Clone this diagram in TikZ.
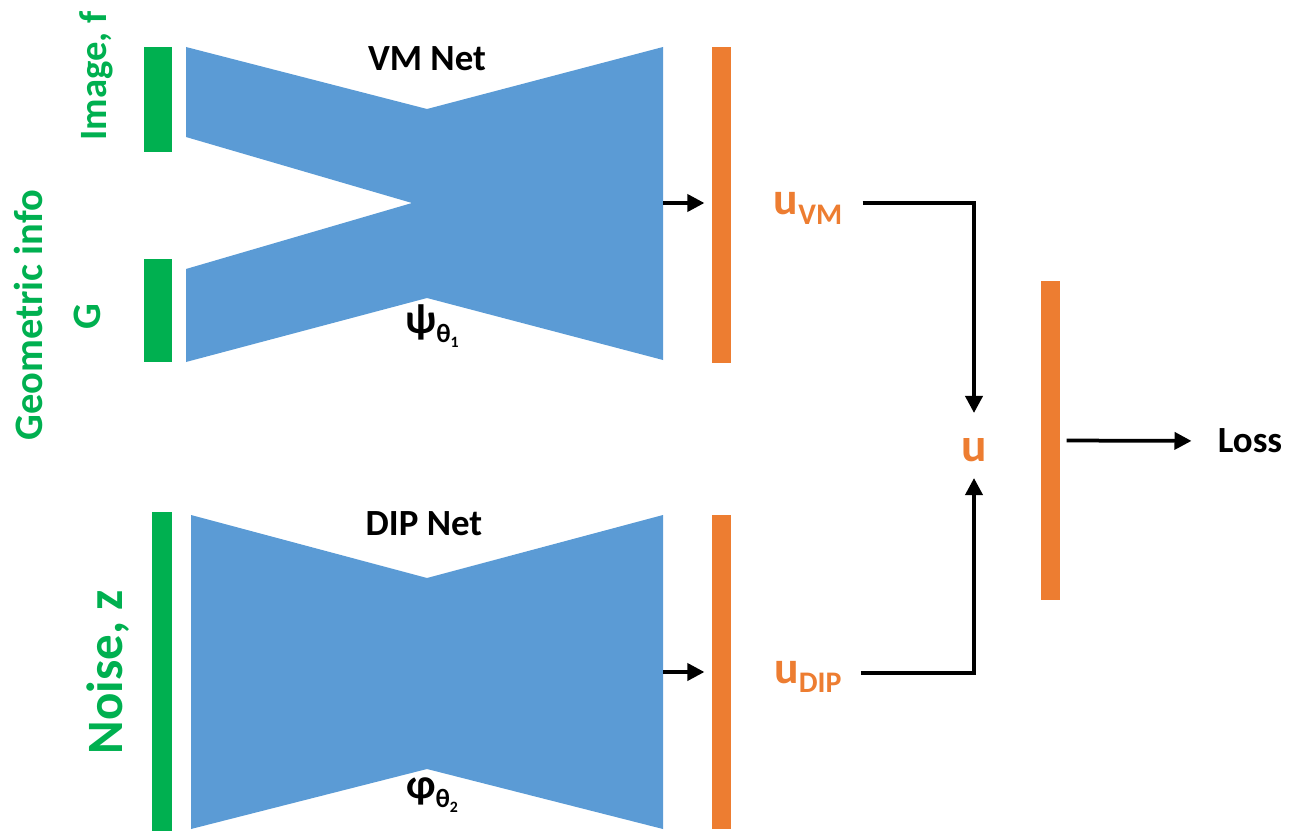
\documentclass[tikz,border=0pt]{standalone}
\usepackage{fontspec}
\setmainfont{Carlito}
\usepackage{xcolor}
\usepackage{tikz}
\usetikzlibrary{arrows.meta, positioning}

\definecolor{netblue}{HTML}{5B9BD5}
\definecolor{ingreen}{HTML}{00B050}
\definecolor{outorange}{HTML}{ED7D31}
\newcommand{\fsz}[1]{\fontsize{#1}{#1}\selectfont}
\newcommand{\netparam}[3]{{\fsz{24}#1}\raisebox{-1.8mm}{\fsz{15}#2\raisebox{-1mm}{\fsz{9}#3}}}

\begin{document}
\begin{tikzpicture}[x=0.2mm, y=-0.2mm,
  inbar/.style={rectangle, fill=ingreen, inner sep=0pt, minimum width=5.6mm},
  outbar/.style={rectangle, fill=outorange, inner sep=0pt, minimum width=3.9mm},
  net/.style={fill=netblue},
  netname/.style={font=\bfseries\fsz{21}, inner sep=0pt},
  inlabel/.style={font=\bfseries\fsz{23}, text=ingreen, rotate=90,
    anchor=base, inner sep=0pt},
  ulabel/.style={font=\bfseries, text=outorange, inner sep=0pt},
  arr/.style={-{Triangle[length=3.4mm, width=3.4mm]}, line width=0.75mm}
]
\useasboundingbox (0,0) rectangle (1296,831);

%% --- VM Net (two inputs) ---
\fill[net] (186,47) -- (427,109) -- (427,298) -- (186,362) -- (186,269)
  -- (412,203) -- (186,137) -- cycle;
\fill[net] (427,109) -- (663,47) -- (663,360) -- (427,298) -- cycle;
\node[netname] (vmname) at (427,59) {VM Net};
\node[inner sep=0pt, font=\bfseries] (psi) at (432,326) {\netparam{ψ}{θ}{1}};
\coordinate (vmout) at (663,203);

%% --- DIP Net ---
\fill[net] (191,515) -- (427,578) -- (427,769) -- (191,829) -- cycle;
\fill[net] (427,578) -- (663,515) -- (663,829) -- (427,769) -- cycle;
\node[netname] (dipname) at (424,524) {DIP Net};
\node[inner sep=0pt, font=\bfseries] (phi) at (432,795) {\netparam{φ}{θ}{2}};
\coordinate (dipout) at (663,672);

%% --- Inputs ---
\node[inbar, minimum height=21mm] (imgbar) at (158,99.5) {};
\node[inbar, minimum height=20.6mm] (gbar) at (158,310.5) {};
\node[inbar, minimum width=4mm, minimum height=63.8mm] (noisebar) at (162,671.5) {};
\node[inlabel, font=\bfseries\fsz{22}] (imglab) at (106,76) {Image, f};
\node[inlabel] (glab) at (100,317) {G};
\node[inlabel] (geolab) at (42,315) {Geometric info};
\node[inlabel, font=\bfseries\fsz{29}] (noiselab) at (122,672) {Noise, z};

%% --- Outputs ---
\node[outbar, minimum height=63.2mm] (vmbar) at (721.5,205) {};
\node[outbar, minimum height=62.8mm] (dipbar) at (721.5,672) {};
\node[outbar, minimum height=63.8mm] (lossbar) at (1050.5,440.5) {};
\node[ulabel] (uvm) at (808,208) {{\fsz{26}u}\raisebox{-2mm}{\fsz{17}VM}};
\node[ulabel] (udip) at (808,677) {{\fsz{26}u}\raisebox{-1.8mm}{\fsz{17}DIP}};
\node[ulabel, font=\bfseries\fsz{27}] (u) at (974,450) {u};
\node[netname] (loss) at (1250,441) {Loss};

%% --- Connectors ---
\draw[arr, shorten >=1.4mm] (vmout) -- (vmout -| vmbar.west);
\draw[arr, shorten >=1.4mm] (dipout) -- (dipout -| dipbar.west);
\draw[arr, shorten >=5mm] ([xshift=4mm, yshift=1mm]uvm.east) -| (u.north);
\draw[arr, shorten >=3.2mm] ([xshift=3.8mm, yshift=0.8mm]udip.east) -| (u.south);
\draw[arr, shorten <=1.2mm, shorten >=5.2mm] (lossbar.east) -- (loss.west);

\end{tikzpicture}
\end{document}
